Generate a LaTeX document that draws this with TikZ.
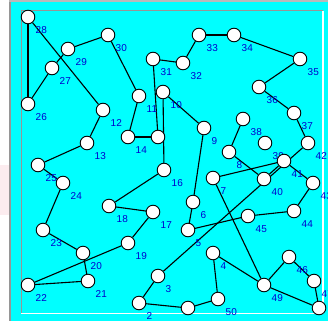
\documentclass[tikz,border=0pt]{standalone}
\usepackage{fontspec}
\setmainfont{Liberation Sans}
\definecolor{cyanbg}{RGB}{0,255,255}
\definecolor{labelblue}{RGB}{0,0,205}
\definecolor{framegray}{RGB}{150,150,150}
\definecolor{topgray}{RGB}{185,185,185}
\definecolor{blush}{RGB}{252,236,239}
\pgfdeclarelayer{bg}
\pgfdeclarelayer{edges}
\pgfdeclarelayer{labels}
\pgfsetlayers{bg,edges,labels,main}
\begin{document}
\begin{tikzpicture}[x=1pt,y=-1pt,
  city/.style={circle,draw=black,fill=white,line width=0.9pt,minimum size=13.6pt,inner sep=0pt},
  road/.style={draw=black,line width=1.1pt},
  lbl/.style={text=labelblue,font=\fontsize{10}{12}\selectfont,anchor=west,inner sep=0pt}]
\useasboundingbox (0,0) rectangle (328,321);
% cities
\node[city] (n28) at (28,17) {};
\node[city] (n30) at (108,35) {};
\node[city] (n29) at (68,49) {};
\node[city] (n27) at (52,68) {};
\node[city] (n26) at (28,104) {};
\node[city] (n11) at (139,96) {};
\node[city] (n12) at (103,110) {};
\node[city] (n14) at (128,137) {};
\node[city] (n15) at (158,137) {};
\node[city] (n31) at (153,59) {};
\node[city] (n32) at (183,63) {};
\node[city] (n33) at (199,35) {};
\node[city] (n34) at (234,35) {};
\node[city] (n35) at (300,59) {};
\node[city] (n36) at (259,87) {};
\node[city] (n37) at (294,113) {};
\node[city] (n42) at (308,143) {};
\node[city] (n10) at (163,92) {};
\node[city] (n9) at (204,128) {};
\node[city] (n38) at (243,119) {};
\node[city] (n39) at (265,143) {};
\node[city] (n8) at (229,152) {};
\node[city] (n41) at (284,161) {};
\node[city] (n7) at (213,178) {};
\node[city] (n40) at (264,179) {};
\node[city] (n43) at (313,183) {};
\node[city] (n44) at (294,211) {};
\node[city] (n45) at (248,216) {};
\node[city] (n6) at (193,202) {};
\node[city] (n5) at (188,230) {};
\node[city] (n16) at (164,170) {};
\node[city] (n18) at (109,206) {};
\node[city] (n17) at (153,212) {};
\node[city] (n13) at (87,143) {};
\node[city] (n25) at (38,165) {};
\node[city] (n24) at (63,183) {};
\node[city] (n23) at (43,230) {};
\node[city] (n20) at (83,253) {};
\node[city] (n21) at (88,281) {};
\node[city] (n22) at (28,285) {};
\node[city] (n19) at (128,243) {};
\node[city] (n3) at (158,276) {};
\node[city] (n2) at (139,303) {};
\node[city] (n1) at (188,308) {};
\node[city] (n50) at (218,299) {};
\node[city] (n4) at (213,253) {};
\node[city] (n49) at (264,285) {};
\node[city] (n46) at (289,257) {};
\node[city] (n47) at (314,281) {};
\node[city] (n48) at (319,308) {};
% background and frame
\begin{pgfonlayer}{bg}
\fill[cyanbg] (0,0) rectangle (328,321);
\fill[white] (0,0) rectangle (9,321);
\fill[blush] (0,165) rectangle (9,215);
\fill[framegray] (9,0) rectangle (10.5,321);
\fill[topgray] (9,0) rectangle (328,2);
\draw[framegray,line width=1pt] (21,313.5) -- (21,11) -- (323,11);
\draw[white,line width=1.2pt] (21,313.5) -- (323,313.5) -- (323,11);
\end{pgfonlayer}
% connectors
\begin{pgfonlayer}{edges}
\foreach \a/\b in {28/26,28/12,26/27,27/29,29/30,30/11,11/14,14/15,15/31,31/32,32/33,33/34,34/35,35/36,36/37,37/42,42/3,41/40,41/7,41/43,38/8,8/40,7/49,43/44,44/45,45/5,5/6,6/9,9/10,10/16,16/18,18/17,17/19,19/22,22/21,21/20,20/23,23/24,24/25,25/13,13/12,3/2,2/1,1/50,50/4,4/49,49/46,46/47,47/48,48/49}
  \draw[road] (n\a) -- (n\b);
\end{pgfonlayer}
% labels
\begin{pgfonlayer}{labels}
\begin{scope}
\clip (0,0) rectangle (328,321);
\foreach \n in {28,30,29,27,26,11,12,14,31,32,33,34,35,36,37,42,10,9,38,39,8,41,7,40,43,44,45,6,5,16,18,17,13,25,24,23,20,21,22,19,3,2,50,4,49,46,47}
  \node[lbl] (l\n) at ([shift={(7.5,13.5)}]n\n.center) {\n};
\end{scope}
\end{pgfonlayer}
\end{tikzpicture}
\end{document}
